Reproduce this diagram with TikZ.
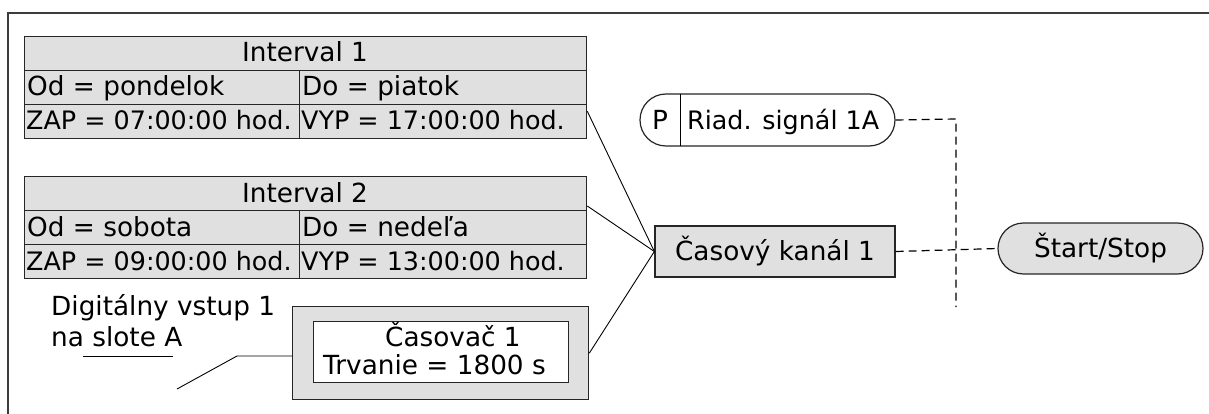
\documentclass[tikz,border=0pt]{standalone}
\usepackage{fontspec}
\setmainfont{DejaVu Sans}
\usetikzlibrary{calc}
\definecolor{cellgray}{RGB}{224,224,224}
\definecolor{framegray}{RGB}{60,60,60}
\begin{document}
\begin{tikzpicture}[x=1pt,y=-1pt,
  every node/.style={font=\fontsize{26.3}{31}\selectfont},
  cell/.style={draw=black!85, line width=1.3pt, fill=cellgray, inner sep=0pt, anchor=north west, minimum height=34pt},
  ltxt/.style={anchor=base west, inner sep=0pt},
  stxt/.style={anchor=base west, inner sep=0pt, font=\fontsize{25.4}{30}\selectfont},
  ctxt/.style={anchor=base, inner sep=0pt},
  conn/.style={line width=0.9pt, black},
  dsh/.style={line width=1.2pt, black, dash pattern=on 8pt off 5pt}
]
\useasboundingbox (0,0) rectangle (1209,414);
% frame
\draw[line width=2pt, framegray] (8,414) -- (8,13) -- (1209,13);

% Interval 1
\node[cell, minimum width=562pt] (i1t) at (24,36) {};
\node[cell, minimum width=275pt] (i1a) at (24,70) {};
\node[cell, minimum width=287pt] (i1b) at (299,70) {};
\node[cell, minimum width=275pt] (i1c) at (24,104) {};
\node[cell, minimum width=287pt] (i1d) at (299,104) {};
\node[ctxt] (i1tt) at (305,62) {Interval 1};
\node[ltxt] (i1at) at (27,96) {Od = pondelok};
\node[ltxt] (i1bt) at (302,96) {Do = piatok};
\node[stxt] (i1ct) at (26,130) {ZAP = 07:00:00 hod.};
\node[stxt] (i1dt) at (301,130) {VYP = 17:00:00 hod.};

% Interval 2
\node[cell, minimum width=562pt] (i2t) at (24,176) {};
\node[cell, minimum width=275pt] (i2a) at (24,210) {};
\node[cell, minimum width=287pt] (i2b) at (299,210) {};
\node[cell, minimum width=275pt] (i2c) at (24,244) {};
\node[cell, minimum width=287pt] (i2d) at (299,244) {};
\node[ctxt] (i2tt) at (305,202) {Interval 2};
\node[ltxt] (i2at) at (27,236) {Od = sobota};
\node[ltxt] (i2bt) at (302,236) {Do = nedeľa};
\node[stxt] (i2ct) at (26,270) {ZAP = 09:00:00 hod.};
\node[stxt] (i2dt) at (301,270) {VYP = 13:00:00 hod.};

% digital input label
\node[ltxt] (dig1) at (51,315) {Digitálny vstup 1};
\node[ltxt] (dig2) at (51,346) {na slote A};
\coordinate (u0) at (83,356);
\coordinate (u1) at (173,356);
\draw[conn] (u0) -- (u1);

% timer
\node[draw=black!85, line width=1.3pt, fill=cellgray, inner sep=0pt, anchor=north west,
      minimum width=296pt, minimum height=93pt] (timer) at (292,306) {};
\node[draw=black!85, line width=1pt, fill=white, inner sep=0pt, anchor=north west,
      minimum width=255pt, minimum height=61pt] (timerin) at (313,321) {};
\node[ltxt] (tm1) at (385,346) {Časovač 1};
\node[ltxt] (tm2) at (323,374) {Trvanie = 1800 s};

% time channel
\node[draw=black!85, line width=1.3pt, fill=cellgray, inner sep=0pt,
      minimum width=240pt, minimum height=51pt] (kanal) at (775,251.5) {Časový kanál 1};

% P pill
\node[draw=black!85, line width=1.2pt, fill=white, rounded corners=26pt, inner sep=0pt,
      minimum width=255pt, minimum height=52pt] (ppill) at (767.5,120) {};
\coordinate (pd0) at (680,94);
\coordinate (pd1) at (680,146);
\draw[line width=1pt] (pd0) -- (pd1);
\node[ltxt] (ptxt) at (652,130) {P};
\node[stxt] (rtxt) at (687,130) {Riad. signál 1A};

% Start/Stop pill
\node[draw=black!85, line width=1.2pt, fill=cellgray, rounded corners=25.5pt, inner sep=0pt,
      minimum width=205pt, minimum height=51pt] (start) at (1100.5,248.5) {Štart/Stop};

% connectors
\draw[conn] ([yshift=-6pt]i1b.south east) -- (kanal.west);
\draw[conn] ([yshift=4pt]i2b.north east) -- (kanal.west);
\draw[conn] (timer.east) -- (kanal.west);
\coordinate (d0) at (177,389);
\coordinate (d1) at (237,356);
\draw[conn] (d0) -- (d1) -- (d1 -| timer.west);

\coordinate (v0) at (956,119);
\coordinate (v1) at (956,307);
\draw[dsh] (ppill.east) -- (v0) -- (v1);
\draw[dsh] (kanal.east) -- (start.west);
\end{tikzpicture}
\end{document}
